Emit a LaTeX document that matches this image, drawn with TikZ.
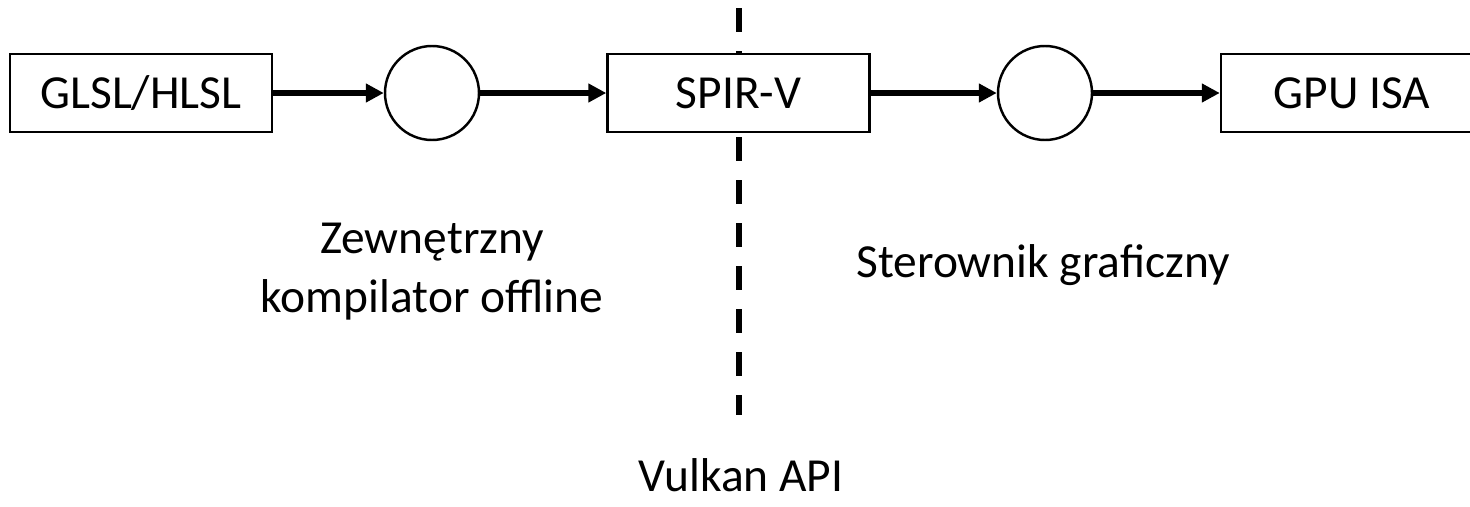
\documentclass[tikz,border=0pt]{standalone}
\usepackage{fontspec}
\setmainfont{Carlito}
\usetikzlibrary{arrows.meta}

\tikzset{
 blok/.style={draw,line width=1.4pt,fill=white,minimum width=5.24cm,minimum height=1.56cm,inner sep=0pt,font=\fontsize{27}{32}\selectfont},
 kolo/.style={draw,circle,line width=1.4pt,fill=white,minimum size=1.88cm,inner sep=0pt},
 strz/.style={line width=3.8pt,-{Triangle[length=0.36cm,width=0.36cm]}},
 opis/.style={align=center,font=\fontsize{27}{34}\selectfont},
}

\begin{document}
\begin{tikzpicture}
 \useasboundingbox (0,0) rectangle (29.4,10.12);
 % granica API
 \coordinate (apiTop) at (14.78,9.96);
 \coordinate (apiBot) at (14.78,1.82);
 \draw[line width=3.4pt,dash pattern=on 0.48cm off 0.38cm](apiTop)--(apiBot);
 \node[blok] (glsl) at (2.82,8.26) {GLSL/HLSL};
 \node[kolo] (k1) at (8.64,8.26) {};
 \node[blok] (spirv) at (14.77,8.26) {SPIR-V};
 \node[kolo] (k2) at (20.9,8.26) {};
 \node[blok] (isa) at (27.04,8.26) {GPU ISA};
 \draw[strz](glsl)--(k1);
 \draw[strz](k1)--(spirv);
 \draw[strz](spirv)--(k2);
 \draw[strz](k2)--(isa);
 \node[opis] (zewn) at (8.64,4.69) {Zewnętrzny\\kompilator offline};
 \node[opis,anchor=base] (ster) at (20.86,4.58) {Sterownik graficzny};
 \node[opis,anchor=base] (api) at (14.82,0.3) {Vulkan API};
\end{tikzpicture}
\end{document}
